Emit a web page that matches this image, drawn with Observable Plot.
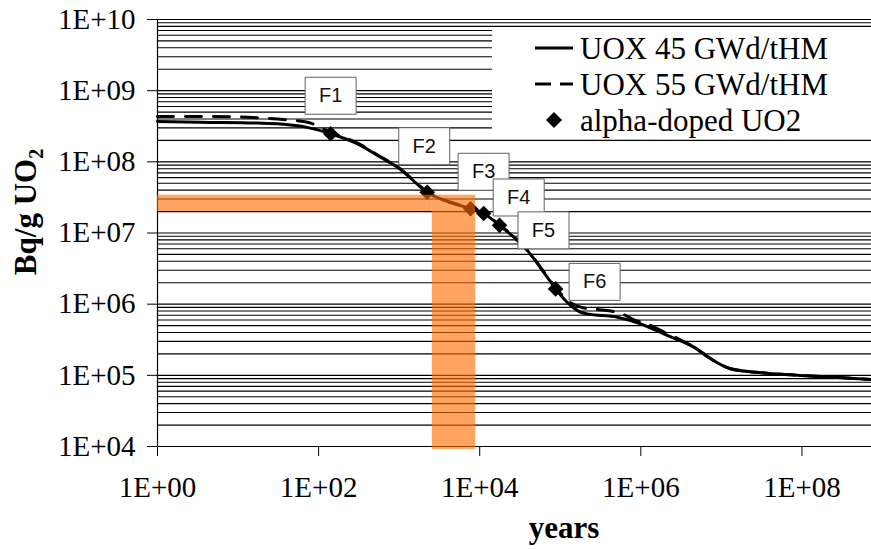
<!DOCTYPE html>
<html>
<head>
<meta charset="utf-8">
<script src="https://cdn.jsdelivr.net/npm/d3@7"></script>
<script src="https://cdn.jsdelivr.net/npm/@observablehq/plot@0.6"></script>
<style>
  body { margin: 0; background: #fff; }
</style>
</head>
<body>
<div id="chart"></div>
<script>
// Alpha activity of spent UOX fuel (Bq per gram UO2) against time in years.
const yearsUox45 = [1, 3.4, 17.5, 34, 72, 141, 300, 587, 955, 2230, 7700, 11200, 17600, 38900, 68900, 87500,
  1.34e5, 1.79e5, 2.16e5, 5.1e5, 9.9e5, 2.13e6, 4.56e6, 7.35e6, 1.3e7, 3.7e7, 9.6e7, 2.47e8, 7.3e8];
const activityUox45 = [3.7e8, 3.6e8, 3.5e8, 3.4e8, 3.05e8, 2.48e8, 1.8e8, 1.16e8, 8.4e7, 3.74e7, 2.19e7, 1.88e7, 1.28e7, 5.7e6, 2.4e6, 1.64e6,
  9.6e5, 7.7e5, 7.3e5, 6.56e5, 5.3e5, 3.63e5, 2.49e5, 1.71e5, 1.24e5, 1.07e5, 9.95e4, 9.4e4, 8.7e4];

const yearsUox55 = [1, 8, 18, 40, 75, 141, 300, 587, 955, 2230, 7700, 11200, 17600, 38900, 68900, 87500,
  1.34e5, 1.79e5, 2.88e5, 3.84e5, 6.1e5, 8.1e5, 1.2e6, 1.76e6, 2.84e6, 4.56e6, 7.35e6, 1.3e7, 3.7e7, 9.6e7, 2.47e8, 7.3e8];
const activityUox55 = [4.35e8, 4.3e8, 4.16e8, 3.9e8, 3.57e8, 2.6e8, 1.85e8, 1.18e8, 8.5e7, 3.8e7, 2.2e7, 1.9e7, 1.3e7, 5.8e6, 2.45e6, 1.7e6,
  1.05e6, 9.1e5, 8.4e5, 8.15e5, 7.16e5, 6.04e5, 5.3e5, 4.27e5, 3.3e5, 2.5e5, 1.72e5, 1.24e5, 1.07e5, 1.0e5, 9.4e4, 8.7e4];

// Alpha-doped UO2 samples F1..F6
const sampleNames = ["F1", "F2", "F3", "F4", "F5", "F6"];
const sampleYears = [141, 2230, 7700, 11200, 17600, 87500];
const sampleActivity = [2.48e8, 3.74e7, 2.19e7, 1.88e7, 1.28e7, 1.64e6];

const seriesNames = ["UOX 45 GWd/tHM", "UOX 55 GWd/tHM", "alpha-doped UO2"];

// Highlighted window: an activity band and a time band
const bandActivity = [2e7, 3.4e7];
const bandYears = [2580, 8900];
const bandActivityFloor = 9100;

const xTickValues = [1, 1e2, 1e4, 1e6, 1e8];
const yTickValues = [1e4, 1e5, 1e6, 1e7, 1e8, 1e9, 1e10];

// ---- drawing ----
const serif = "'Liberation Serif', 'Times New Roman', serif";
const sans = "'Liberation Sans', Arial, sans-serif";
const fmt = v => "1E+" + String(Math.round(Math.log10(v))).padStart(2, "0");

// gridlines at 1..9 x each decade
const gridValues = yTickValues.slice(0, -1)
  .flatMap(v => d3.range(1, 10).map(m => m * v))
  .concat([yTickValues[yTickValues.length - 1]]);

const uox45 = yearsUox45.map((t, i) => ({t, a: activityUox45[i]}));
const uox55 = yearsUox55.map((t, i) => ({t, a: activityUox55[i]}));
const samples = sampleNames.map((name, i) => ({name, t: sampleYears[i], a: sampleActivity[i]}));

const bands = [
  {x1: xTickValues[0], x2: bandYears[0], y1: bandActivity[0], y2: bandActivity[1]},
  {x1: bandYears[0], x2: bandYears[1], y1: bandActivityFloor, y2: bandActivity[1]}
];

// label box placement next to each sample marker
const labelOffsets = [[0, -38], [-3, -46], [13, -37], [35, -16], [44, 5], [39, -7]];
const boxSymbol = {draw(ctx) { ctx.rect(-25.5, -18.5, 51, 37); }};

const labelMarks = samples.flatMap((s, i) => {
  const [dx, dy] = labelOffsets[i];
  return [
    Plot.dot([s], {x: "t", y: "a", symbol: boxSymbol, dx, dy, fill: "white", stroke: "#606060", strokeWidth: 1}),
    Plot.text([s], {x: "t", y: "a", text: "name", dx, dy, fontFamily: sans, fontSize: 20, fill: "#111"})
  ];
});

const chart = Plot.plot({
  width: 871,
  height: 549,
  marginLeft: 157,
  marginRight: 0,
  marginTop: 19,
  marginBottom: 103,
  x: {type: "log", domain: [1, 7.3e8]},
  y: {type: "log", domain: [1e4, 1e10]},
  style: {background: "white", fontFamily: serif, color: "#000"},
  marks: [
    Plot.ruleY(gridValues, {stroke: "#000", strokeWidth: 1.1}),
    Plot.ruleX([1], {stroke: "#000", strokeWidth: 1.2}),
    Plot.axisY({ticks: yTickValues, tickFormat: fmt, tickSize: 10, tickPadding: 12, fontSize: 29, fontFamily: serif, label: null}),
    Plot.axisX({ticks: xTickValues, tickFormat: fmt, tickSize: 10, tickPadding: 20, fontSize: 29, fontFamily: serif, label: null}),
    Plot.line(uox55, {x: "t", y: "a", stroke: "#000", strokeWidth: 3, strokeDasharray: "16,12", curve: "monotone-x"}),
    Plot.line(uox45, {x: "t", y: "a", stroke: "#000", strokeWidth: 3, curve: "monotone-x"}),
    Plot.dot(samples, {x: "t", y: "a", symbol: "diamond2", r: 7, fill: "#000"}),
    Plot.rect(bands, {x1: "x1", x2: "x2", y1: "y1", y2: "y2", fill: "#ff6d00", fillOpacity: 0.62}),
    ...labelMarks
  ]
});

document.getElementById("chart").appendChild(chart);

// legend panel in the upper right of the plot
const svg = d3.select(chart);
const lg = svg.append("g");
lg.append("rect").attr("x", 492).attr("y", 27).attr("width", 379).attr("height", 106).attr("fill", "white");
lg.append("line").attr("x1", 535).attr("x2", 573).attr("y1", 48).attr("y2", 48)
  .attr("stroke", "#000").attr("stroke-width", 3);
lg.append("line").attr("x1", 535).attr("x2", 573).attr("y1", 84).attr("y2", 84)
  .attr("stroke", "#000").attr("stroke-width", 3).attr("stroke-dasharray", "16,9");
lg.append("path").attr("d", "M554,112L562,120L554,128L546,120Z").attr("fill", "#000");
seriesNames.forEach((name, i) => {
  lg.append("text").attr("x", 580).attr("y", 59 + i * 36)
    .attr("text-anchor", "start")
    .attr("font-family", serif).attr("font-size", 31).attr("fill", "#000").text(name);
});

// axis titles
const yTitle = svg.append("text")
  .attr("transform", "translate(36,212) rotate(-90)")
  .attr("text-anchor", "middle")
  .attr("font-family", serif).attr("font-size", 31).attr("font-weight", "bold").attr("fill", "#000");
yTitle.append("tspan").text("Bq/g UO");
yTitle.append("tspan").attr("font-size", 20).attr("dy", 7).text("2");

svg.append("text")
  .attr("x", 564).attr("y", 538)
  .attr("text-anchor", "middle")
  .attr("font-family", serif).attr("font-size", 31).attr("font-weight", "bold").attr("fill", "#000")
  .text("years");
</script>
</body>
</html>
